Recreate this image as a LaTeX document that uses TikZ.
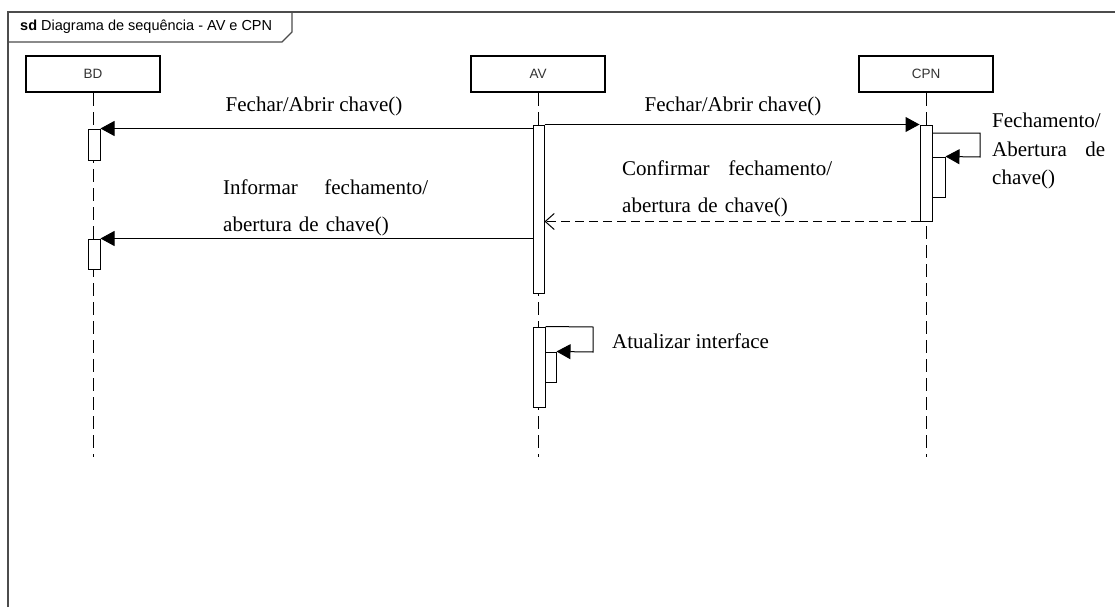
\documentclass[tikz,border=0pt]{standalone}
\usepackage{fontspec}
\setmainfont{Liberation Serif}
\newfontfamily\uisans{Liberation Sans}
\usetikzlibrary{arrows.meta}
\begin{document}
\begin{tikzpicture}[x=1pt,y=-1pt,
  frameline/.style={draw=black!70, line width=1.3pt},
  framelabel/.style={inner sep=0pt, anchor=west, font=\uisans\fontsize{14.5}{17}\selectfont},
  lifebox/.style={draw, line width=2.4pt, fill=white, minimum width=134pt, minimum height=36pt,
                  inner sep=0pt, font=\uisans\fontsize{13.5}{16}\selectfont, text=black!80},
  lifeline/.style={draw, line width=1pt, dash pattern=on 13pt off 6pt},
  act/.style={draw, line width=1pt, fill=white, minimum width=12pt, inner sep=0pt},
  msg/.style={draw, line width=1pt, -{Triangle[length=14pt,width=15pt]}},
  reply/.style={draw, line width=1pt, dash pattern=on 9pt off 5pt,
                -{Straight Barb[length=9pt,width=16pt,line width=1pt]}},
  lbl/.style={inner sep=0pt, font=\fontsize{21}{25}\selectfont},
  twoline/.style={inner sep=0pt, anchor=north west, align=left,
                  font=\fontsize{21}{36.7}\selectfont},
]
% canvas
\fill[white] (0,0) rectangle (1115,607);
\useasboundingbox (0,0) rectangle (1115,607);

% sequence frame and its name tab
\draw[frameline] (8,607) -- (8,12) -- (1115,12);
\draw[frameline] (8,42) -- (282,42) -- (292,32) -- (292,12);
\node[framelabel] (title) at (20,27) {\textbf{sd} Diagrama de sequência - AV e CPN};

% lifeline heads
\node[lifebox] (bd)  at (93,74)  {BD};
\node[lifebox] (av)  at (538,74) {AV};
\node[lifebox] (cpn) at (926,74) {CPN};

% lifelines
\draw[lifeline] (bd.south)  -- (bd.south |- 0,457);
\draw[lifeline] (av.south)  -- (av.south |- 0,457);
\draw[lifeline] (cpn.south) -- (cpn.south |- 0,457);

% activation bars
\node[act, minimum height=31pt]  (bdA1)  at (94,144.5) {};
\node[act, minimum height=30pt]  (bdA2)  at (94,254)   {};
\node[act, minimum height=168pt, minimum width=11pt] (avA1) at (538.5,209) {};
\node[act, minimum height=80pt]  (avB1)  at (539,367)  {};
\node[act, minimum height=30pt, minimum width=11pt] (avB2) at (550.5,367) {};
\node[act, minimum height=96pt]  (cpnA1) at (926,173)  {};
\node[act, minimum height=40pt, minimum width=13pt] (cpnA2) at (938.5,177) {};

% messages
\draw[msg] (avA1.west |- bdA1.north east) -- (bdA1.north east);
\draw[msg] (avA1.north east) -- (cpnA1.north west);
\draw[reply] (cpnA1.south west) -- (avA1.east |- cpnA1.south west);
\draw[msg] (avA1.west |- bdA2.north east) -- (bdA2.north east);

% self calls
\coordinate (cpnLoopA) at (980,133);
\coordinate (cpnLoopB) at (980,157);
\draw[msg] (cpnA1.east |- cpnLoopA) -- (cpnLoopA) -- (cpnLoopB) -- (cpnA2.north east);
\coordinate (avLoopA) at (593,327);
\coordinate (avLoopB) at (593,352);
\draw[msg] (avB1.north east) -- (avLoopA) -- (avLoopB) -- (avB2.north east);

% message labels
\node[lbl, anchor=base] (l1) at (314,111) {Fechar/Abrir chave()};
\node[lbl, anchor=base] (l2) at (733,111) {Fechar/Abrir chave()};
\node[twoline, text width=210pt] (l3) at (622,161)
  {Confirmar\hfill fechamento/\\abertura de chave()};
\node[twoline, text width=205pt] (l4) at (223,180)
  {Informar\hfill fechamento/\\abertura de chave()};
\node[twoline, text width=113pt, font=\fontsize{21}{28.5}\selectfont] (l5) at (992,113)
  {Fechamento/\\Abertura\hfill de\\chave()};
\node[lbl, anchor=base west] (l6) at (612,348) {Atualizar interface};
\end{tikzpicture}
\end{document}
